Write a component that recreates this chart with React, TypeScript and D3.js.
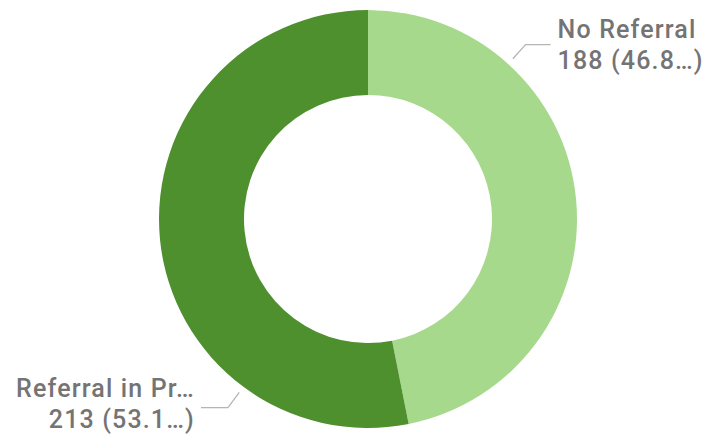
import * as React from "react";
import * as d3 from "d3";

const labels = ["No Referral", "Referral in Pr\u2026"];
const values = [188, 213];
const valueTexts = ["188 (46.8\u2026)", "213 (53.1\u2026)"];
const colors = ["#a7d98c", "#4e8f2e"];

const width = 703;
const height = 434;
const cx = 368;
const cy = 219;
const outerR = 209;
const innerR = 124;

// where the leader lines leave the ring (radians, clockwise from 12 o'clock)
const leaderAngles = [0.735, 3.78];

export default function App() {
  const pie = d3.pie<number>().sort(null).value(d => d);
  const arcs = pie(values);
  const arc = d3.arc<d3.PieArcDatum<number>>().innerRadius(innerR).outerRadius(outerR);

  const pt = (a: number, r: number) => [Math.sin(a) * r, -Math.cos(a) * r];

  return (
    <svg
      width={width}
      height={height}
      style={{ position: "absolute", left: 0, top: 0, background: "#fff" }}
    >
      <g transform={`translate(${cx},${cy})`}>
        {arcs.map((a, i) => (
          <path key={i} d={arc(a) || ""} fill={colors[i]} />
        ))}
        {arcs.map((a, i) => {
          const ang = leaderAngles[i];
          const p0 = pt(ang, outerR + 7);
          const p1 = pt(ang, outerR + 26);
          const right = Math.sin(ang) > 0;
          const p2 = [p1[0] + (right ? 25 : -27), p1[1]];
          const tx = p2[0] + (right ? 7 : -6);
          const lineH = 31;
          const y0 = right ? p1[1] - 7 : p1[1] - 11;
          return (
            <g key={"l" + i}>
              <polyline
                points={[p0, p1, p2].map(p => p.join(",")).join(" ")}
                fill="none"
                stroke="#b5b5b5"
                strokeWidth={1.3}
              />
              <text
                x={tx}
                y={y0}
                textAnchor={right ? "start" : "end"}
                fontFamily="Roboto, 'DejaVu Sans'"
                fontWeight={500}
                fontSize={25}
                letterSpacing={1.15}
                fill="#747474"
              >
                <tspan x={tx}>{labels[i]}</tspan>
                <tspan x={tx} dy={lineH}>{valueTexts[i]}</tspan>
              </text>
            </g>
          );
        })}
      </g>
    </svg>
  );
}
